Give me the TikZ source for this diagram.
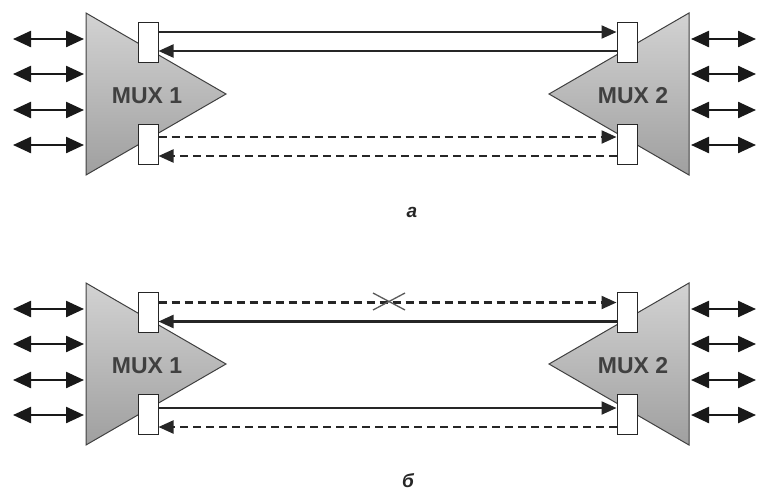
\documentclass[tikz,border=0pt]{standalone}
\usepackage{fontspec}
\setmainfont{Liberation Sans}
\usetikzlibrary{arrows.meta}
\begin{document}
\begin{tikzpicture}[x=1pt,y=-1pt,
  mux/.style={draw=black!75,line width=1pt,top color=gray!35,bottom color=gray!75},
  port/.style={draw=black!85,fill=white,line width=1pt,minimum width=20pt,minimum height=40pt,inner sep=0pt},
  link/.style={line width=2.2pt,black!85},
  dlink/.style={link,dash pattern=on 8pt off 5pt},
  tip/.style={-{Triangle[length=15pt,width=13pt]}},
  bi/.style={line width=2.4pt,black!90,{Triangle[length=18pt,width=16pt]}-{Triangle[length=18pt,width=16pt]}},
  lbl/.style={font=\fontsize{23}{23}\selectfont\bfseries,text=black!75},
  captxt/.style={font=\fontsize{19}{19}\selectfont\bfseries\itshape,text=black!85}]
\useasboundingbox (0,0) rectangle (757,491);
\foreach \dy/\nm in {0/a,270/b}{
  \begin{scope}[yshift=-\dy pt]
  \shade[mux] (86,13) -- (226,94) -- (86,175) -- cycle;
  \shade[mux] (689,13) -- (549,94) -- (689,175) -- cycle;
  \foreach \y in {39,74,110,145}{
    \coordinate (\nm l1\y) at (13,\y); \coordinate (\nm l2\y) at (84,\y);
    \draw[bi] (\nm l1\y) -- (\nm l2\y);
    \coordinate (\nm r1\y) at (691,\y); \coordinate (\nm r2\y) at (756,\y);
    \draw[bi] (\nm r1\y) -- (\nm r2\y);
  }
  \node[port] (\nm p1) at (148,42.5) {};
  \node[port] (\nm p2) at (148,144) {};
  \node[port] (\nm q1) at (627,42.5) {};
  \node[port] (\nm q2) at (627,144) {};
  \end{scope}
}
\node[lbl] (m1a) at (147,96) {MUX 1};
\node[lbl] (m2a) at (633,96) {MUX 2};
\node[lbl] (m1b) at (147,366) {MUX 1};
\node[lbl] (m2b) at (633,366) {MUX 2};
% links a
\draw[link,tip] ([yshift=10.5pt]ap1.east) -- ([yshift=10.5pt]aq1.west);
\draw[link,tip] ([yshift=-8.5pt]aq1.west) -- ([yshift=-8.5pt]ap1.east);
\draw[dlink,tip] ([yshift=7pt]ap2.east) -- ([yshift=7pt]aq2.west);
\draw[dlink,tip] ([yshift=-12pt]aq2.west) -- ([yshift=-12pt]ap2.east);
% links b
\draw[dlink,tip] ([yshift=10pt]bp1.east) -- ([yshift=10pt]bq1.west);
\draw[link,tip] ([yshift=-9pt]bq1.west) -- ([yshift=-9pt]bp1.east);
\draw[link,tip] ([yshift=6pt]bp2.east) -- ([yshift=6pt]bq2.west);
\draw[dlink,tip] ([yshift=-13pt]bq2.west) -- ([yshift=-13pt]bp2.east);
% cross
\coordinate (x1) at (373,293); \coordinate (x2) at (405,310);
\coordinate (x3) at (373,310); \coordinate (x4) at (405,293);
\draw[line width=1.3pt,black!65] (x1) -- (x2);
\draw[line width=1.3pt,black!65] (x3) -- (x4);
% captions
\node[captxt] (ca) at (412,212) {a};
\node[captxt] (cb) at (408,481) {б};
\end{tikzpicture}
\end{document}
